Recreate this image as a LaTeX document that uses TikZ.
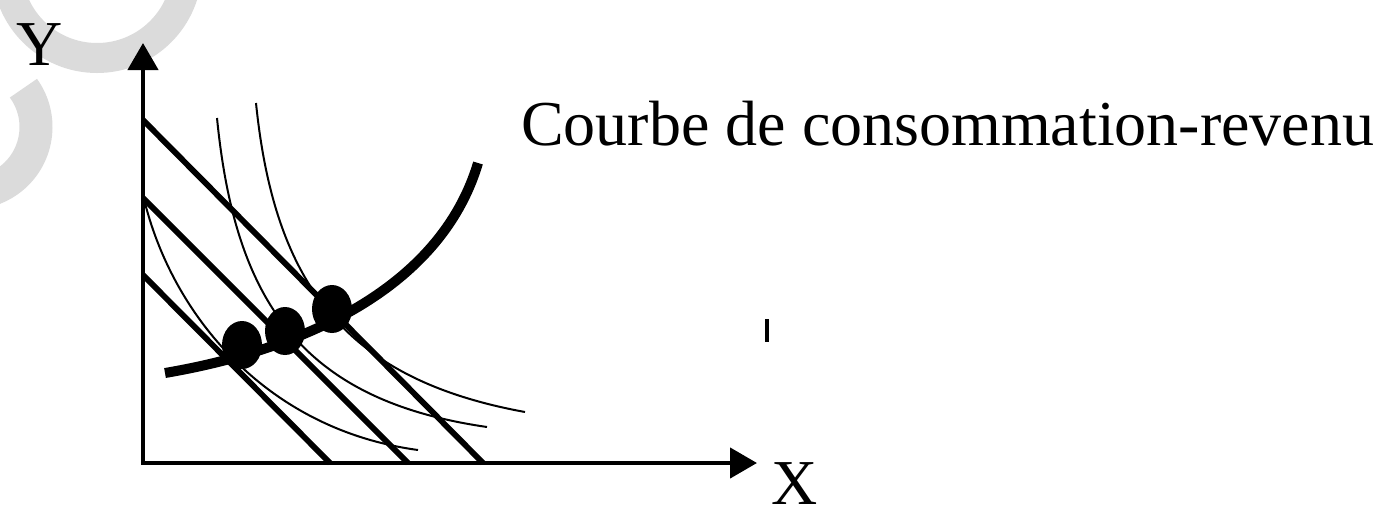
\documentclass[tikz,border=0pt]{standalone}
\usepackage{fontspec}
\setmainfont{Liberation Serif}
\usetikzlibrary{arrows.meta, positioning, shapes.geometric}

\begin{document}
\begin{tikzpicture}[x=1pt, y=-1pt, font=\fontsize{64}{72}\selectfont,
    >={Triangle[length=27pt, width=30pt]},
    axis/.style={line width=4.5pt},
    budget/.style={line width=5.8pt},
    indiff/.style={line width=2pt},
    icc/.style={line width=10pt},
    dot/.style={ellipse, fill=black, minimum width=40pt, minimum height=48pt, inner sep=0pt},
    ghost/.style={draw=black!14, line width=30pt}]
    \useasboundingbox (0,0) rectangle (1378,509);
    \clip (0,0) rectangle (1378,509);
    % grey marks in the corner
    \draw[ghost] (97,-32) circle[radius=90];
    \draw[ghost, line width=33pt] (-30,127) ++(-36:66) arc[start angle=-36, end angle=130, radius=66];
    % axes
    \coordinate (O) at (143,463);
    \coordinate (ytip) at (143,43);
    \coordinate (xtip) at (757,463);
    \draw[axis, <->] (ytip) -- (O) -- (xtip);
    \node[anchor=base, inner sep=0pt] (ylab) at (40,65) {Y};
    \node[anchor=base, inner sep=0pt] (xlab) at (795,504) {X};
    % budget lines
    \coordinate (b1y) at (143,120);
    \coordinate (b1x) at (483,463);
    \coordinate (b2y) at (143,198);
    \coordinate (b2x) at (408,463);
    \coordinate (b3y) at (143,275);
    \coordinate (b3x) at (330,463);
    \draw[budget] (b1y) -- (b1x);
    \draw[budget] (b2y) -- (b2x);
    \draw[budget] (b3y) -- (b3x);
    % indifference curves
    \draw[indiff] (145,203) .. controls (175,320) and (270,430) .. (418,450);
    \draw[indiff] (217,118) .. controls (235,300) and (300,400) .. (487,427);
    \draw[indiff] (256,103) .. controls (275,290) and (350,380) .. (525,412);
    % consumption curve and optima
    \draw[icc] (165,373) .. controls (300,350) and (440,290) .. (478,163);
    \node[dot] (e1) at (242,345) {};
    \node[dot] (e2) at (285,331) {};
    \node[dot] (e3) at (332,309) {};
    \node[anchor=base west, inner sep=0pt] (icclab) at (521,145) {Courbe de consommation-revenu};
    \draw[line width=4pt] (767,319) -- (767,342);
\end{tikzpicture}
\end{document}
